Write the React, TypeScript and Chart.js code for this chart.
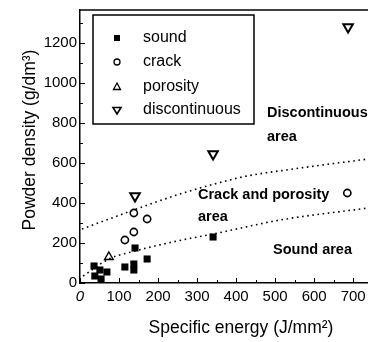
import React, { useEffect, useRef } from 'react';
import { Chart, registerables } from 'chart.js';

Chart.register(...registerables);

// ---- data ----
const soundX = [36, 51, 38, 69, 54, 115, 138, 138, 141, 172, 341];
const soundY = [85, 65, 35, 55, 20, 80, 95, 65, 175, 120, 230];

const crackX = [115, 138, 138, 172, 685];
const crackY = [215, 255, 350, 320, 450];

const porosityX = [74];
const porosityY = [130];

const discX = [141, 341, 687];
const discY = [435, 645, 1280];

const upperX = [5, 138, 256, 354, 428, 550, 738];
const upperY = [270, 365, 445, 500, 535, 571, 620];

const lowerX = [8, 74, 141, 254, 341, 513, 738];
const lowerY = [35, 120, 160, 212, 245, 315, 375];

const xTickValues = [0, 100, 200, 300, 400, 500, 600, 700];
const yTickValues = [0, 200, 400, 600, 800, 1000, 1200];

const legendLabels = ['sound', 'crack', 'porosity', 'discontinuous'];

const FONT = '"Liberation Sans", Arial, Helvetica, sans-serif';

const pts = (xs: number[], ys: number[]) => xs.map((x, i) => ({ x, y: ys[i] }));

export default function App() {
  const ref = useRef<HTMLCanvasElement>(null);

  useEffect(() => {
    document.body.style.margin = '0';
    const canvas = ref.current;
    if (!canvas) return;

    const overlay = {
      id: 'overlay',
      afterDraw(chart: any) {
        const ctx = chart.ctx as CanvasRenderingContext2D;
        const xs = chart.scales.x;
        const ys = chart.scales.y;
        const area = chart.chartArea;
        ctx.save();
        ctx.strokeStyle = '#000';
        ctx.fillStyle = '#000';

        // inward ticks
        ctx.lineWidth = 1;
        for (let v = 0; v <= xs.max; v += 50) {
          const px = Math.round(xs.getPixelForValue(v)) + 0.5;
          const len = v % 100 === 0 ? 5 : 3;
          ctx.beginPath();
          ctx.moveTo(px, area.bottom);
          ctx.lineTo(px, area.bottom - len);
          ctx.stroke();
        }
        for (let v = 0; v <= ys.max; v += 100) {
          const py = Math.round(ys.getPixelForValue(v)) + 0.5;
          const len = v % 200 === 0 ? 5 : 3;
          ctx.beginPath();
          ctx.moveTo(area.left, py);
          ctx.lineTo(area.left + len, py);
          ctx.stroke();
        }

        // top frame
        ctx.lineWidth = 1.5;
        ctx.beginPath();
        ctx.moveTo(area.left, area.top);
        ctx.lineTo(area.right, area.top);
        ctx.stroke();

        // legend box
        ctx.lineWidth = 1.5;
        ctx.fillStyle = '#fff';
        ctx.fillRect(93, 15, 161, 109);
        ctx.strokeRect(93, 15, 161, 109);
        ctx.fillStyle = '#000';
        const rows = [38, 62, 87, 110];
        const mx = 117;
        ctx.fillRect(mx - 3, rows[0] - 3, 6, 6);
        ctx.lineWidth = 1.3;
        ctx.beginPath();
        ctx.arc(mx, rows[1], 3, 0, Math.PI * 2);
        ctx.stroke();
        ctx.beginPath();
        ctx.moveTo(mx, rows[2] - 4);
        ctx.lineTo(mx + 3.5, rows[2] + 2.5);
        ctx.lineTo(mx - 3.5, rows[2] + 2.5);
        ctx.closePath();
        ctx.stroke();
        ctx.lineWidth = 1.6;
        ctx.beginPath();
        ctx.moveTo(mx, rows[3] + 4);
        ctx.lineTo(mx + 4, rows[3] - 2.5);
        ctx.lineTo(mx - 4, rows[3] - 2.5);
        ctx.closePath();
        ctx.stroke();

        ctx.font = `16px ${FONT}`;
        ctx.textBaseline = 'middle';
        ctx.textAlign = 'left';
        legendLabels.forEach((t, i) => ctx.fillText(t, 143, rows[i]));

        // region annotations
        ctx.font = `bold 14.5px ${FONT}`;
        ctx.fillText('Discontinuous', 267, 113);
        ctx.fillText('area', 267, 137);
        ctx.fillText('Crack and porosity', 198, 195);
        ctx.fillText('area', 198, 217);
        ctx.fillText('Sound area', 273, 250);

        // axis titles
        ctx.font = `17.5px ${FONT}`;
        ctx.textAlign = 'center';
        ctx.fillText('Specific energy (J/mm²)', 241, 328);
        ctx.translate(30, 140);
        ctx.rotate(-Math.PI / 2);
        ctx.fillText('Powder density (g/dm³)', 0, 0);
        ctx.restore();
      },
    };

    const curve = (xsArr: number[], ysArr: number[]) => ({
      type: 'line' as const,
      data: pts(xsArr, ysArr),
      borderColor: '#000',
      borderWidth: 1.6,
      borderDash: [1.6, 3.6],
      pointRadius: 0,
      showLine: true,
      fill: false,
      cubicInterpolationMode: 'monotone' as const,
    });

    const chart = new Chart(canvas, {
      type: 'scatter',
      data: {
        datasets: [
          curve(upperX, upperY) as any,
          curve(lowerX, lowerY) as any,
          {
            label: 'sound',
            data: pts(soundX, soundY),
            pointStyle: 'rect',
            pointRadius: 5,
            backgroundColor: '#000',
            borderColor: '#000',
            borderWidth: 0,
          },
          {
            label: 'crack',
            data: pts(crackX, crackY),
            pointStyle: 'circle',
            pointRadius: 3.6,
            backgroundColor: '#fff',
            borderColor: '#000',
            borderWidth: 1.6,
          },
          {
            label: 'porosity',
            data: pts(porosityX, porosityY),
            pointStyle: 'triangle',
            pointRadius: 5,
            backgroundColor: '#fff',
            borderColor: '#000',
            borderWidth: 1.4,
          },
          {
            label: 'discontinuous',
            data: pts(discX, discY),
            pointStyle: 'triangle',
            rotation: 180,
            pointRadius: 5.5,
            backgroundColor: '#fff',
            borderColor: '#000',
            borderWidth: 2,
          } as any,
        ],
      },
      options: {
        animation: false,
        responsive: false,
        devicePixelRatio: 1,
        layout: { autoPadding: false, padding: { top: 10, left: 0, right: 0, bottom: 0 } },
        plugins: {
          legend: { display: false },
          tooltip: { enabled: false },
        },
        scales: {
          x: {
            type: 'linear',
            min: 0,
            max: 738,
            afterBuildTicks: (s: any) => {
              s.ticks = xTickValues.map((v) => ({ value: v }));
            },
            afterFit: (s: any) => {
              s.height = 59;
              s.paddingLeft = 0;
              s.paddingRight = 0;
            },
            grid: { display: false, drawTicks: false },
            border: { display: true, color: '#000', width: 1.5 },
            ticks: {
              color: '#000',
              padding: 5,
              autoSkip: false,
              maxRotation: 0,
              callback: (v: any) => String(v),
              font: (c: any) => ({
                family: FONT,
                size: 15,
                style: c.tick && c.tick.value === 0 ? 'italic' : 'normal',
              }),
            },
          },
          y: {
            type: 'linear',
            min: 0,
            max: 1365,
            afterBuildTicks: (s: any) => {
              s.ticks = yTickValues.map((v) => ({ value: v }));
            },
            afterFit: (s: any) => {
              s.width = 80;
              s.paddingTop = 0;
              s.paddingBottom = 0;
            },
            grid: { display: false, drawTicks: false },
            border: { display: true, color: '#000', width: 1.5 },
            ticks: {
              color: '#000',
              padding: 3,
              autoSkip: false,
              callback: (v: any) => String(v),
              font: { family: FONT, size: 15 },
            },
          },
        },
      },
      plugins: [overlay],
    });

    return () => chart.destroy();
  }, []);

  return (
    <div style={{ width: 368, height: 342 }}>
      <canvas ref={ref} width={368} height={342} style={{ display: 'block' }} />
    </div>
  );
}
